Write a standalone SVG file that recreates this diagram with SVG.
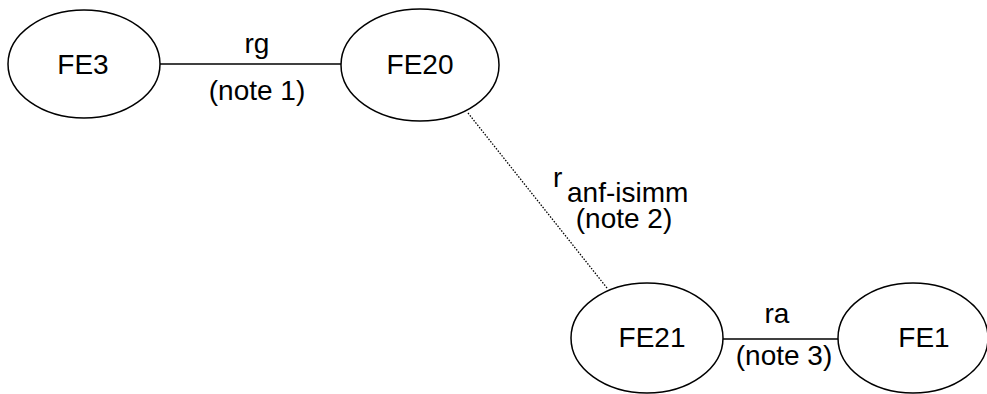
<svg xmlns="http://www.w3.org/2000/svg" width="987" height="394" viewBox="0 0 987 394">
<style>
.n{fill:#fff;stroke:#000;stroke-width:1.5}
.t{font-family:"Liberation Sans",Arial,sans-serif;font-size:28px;fill:#000;text-anchor:middle}
.s{text-anchor:start}
.c{stroke:#000;stroke-width:1.5;fill:none}
.d{stroke:#000;stroke-width:1.3;stroke-dasharray:1.5 1.5;fill:none}
</style>
<rect width="987" height="394" fill="#fff"/>
<g id="connectors">
<line class="c" x1="160" y1="64" x2="341" y2="64"/>
<line class="d" x1="468" y1="113" x2="607" y2="288"/>
<line class="c" x1="723" y1="339" x2="839" y2="339"/>
<text class="t" x="257" y="53">rg</text>
<text class="t" x="257" y="100">(note 1)</text>
<text class="t s" x="553" y="187">r<tspan x="567" y="202">anf-isimm</tspan></text>
<text class="t" x="624" y="228">(note 2)</text>
<text class="t" x="777" y="323">ra</text>
<text class="t" x="784" y="365">(note 3)</text>
</g>
<g id="FE3"><ellipse class="n" cx="84" cy="64" rx="76" ry="54"/><text class="t" x="83" y="74">FE3</text></g>
<g id="FE20"><ellipse class="n" cx="420" cy="65" rx="79" ry="56"/><text class="t" x="420" y="74">FE20</text></g>
<g id="FE21"><ellipse class="n" cx="647" cy="338" rx="76" ry="55"/><text class="t" x="652" y="347">FE21</text></g>
<g id="FE1"><ellipse class="n" cx="913" cy="338" rx="75" ry="55"/><text class="t" x="924" y="347">FE1</text></g>
</svg>
